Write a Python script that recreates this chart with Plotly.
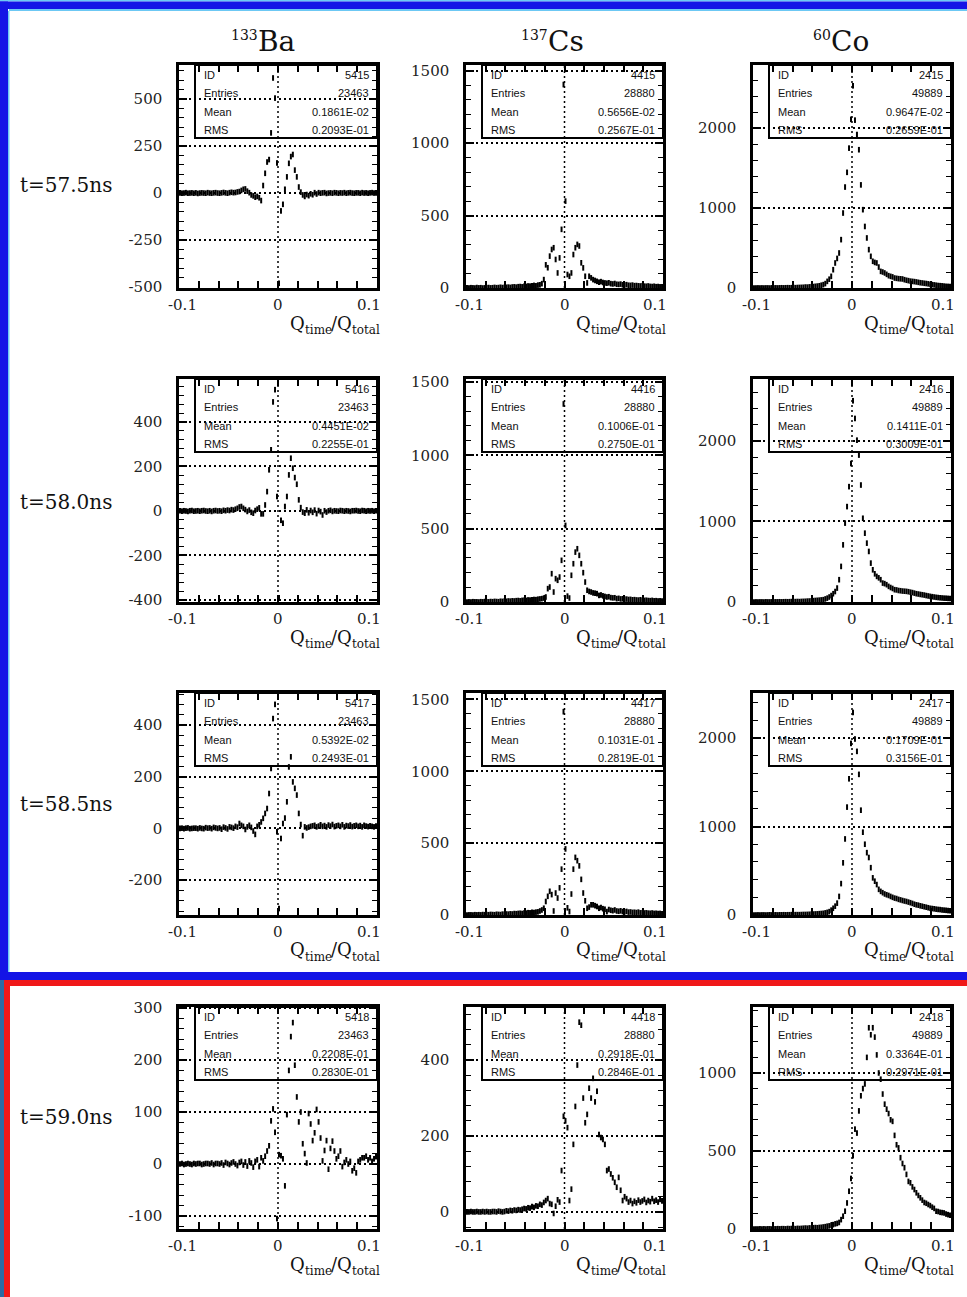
import plotly.graph_objects as go

W, H = 967, 1297

# ---- histogram binning (100 bins on [-0.1, 0.1]) ----
N_BINS = 100
X_MIN, X_MAX = -0.1, 0.1
BIN_W = (X_MAX - X_MIN) / N_BINS
bin_centers = [X_MIN + BIN_W * (k + 0.5) for k in range(N_BINS)]

isotopes = [("133", "Ba"), ("137", "Cs"), ("60", "Co")]
delays = ["t=57.5ns", "t=58.0ns", "t=58.5ns", "t=59.0ns"]

# ---- bin contents, Q_time/Q_total ----
ba_575 = [1, -1, 0, 2, -1, 0, 1, -1, 1, -2,
          0, 1, 0, -1, 2, 0, -1, 1, 2, 0,
          -1, 1, 3, 1, -1, 2, 4, 2, 3, 6,
          8, 14, 20, 22, 10, 2, -10, -15, -22, -18,
          -25, -40, 40, 105, 165, 178, 320, 612, 505, 160,
          -480, -95, -60, 20, 86, 158, 194, 205, 122, 86,
          32, 5, -10, -18, -8, -14, -4, -9, 2, -5,
          2, -1, 1, 2, -2, 0, 1, -1, 2, 1,
          -1, 1, 0, 2, -1, 1, 2, 0, -1, 1,
          1, -1, 2, 0, 1, -1, 1, 2, 0, 1]
ba_580 = [1, -1, 1, 0, -2, 1, 2, -1, 0, 1,
          -1, 1, 2, 0, -1, 1, -2, 1, 2, 0,
          1, -1, 3, 1, 4, 2, 6, 4, 8, 12,
          18, 20, 12, 6, -2, 4, -6, -10, 2, 8,
          14, -13, -13, 27, 87, 185, 275, 490, 545, 65,
          -390, -42, -55, 20, 65, 162, 237, 192, 150, 120,
          50, 15, -5, -10, 5, -8, 2, -6, 4, -12,
          2, -3, -18, 1, -5, 1, 3, -2, 1, 0,
          -1, 2, 1, -1, 1, 0, -2, 1, 1, 2,
          0, -1, 2, 1, -1, 1, 0, 1, -1, 1]
ba_585 = [0, 1, -1, 1, 2, -1, 0, 1, 1, -1,
          2, 0, -1, 3, 1, 2, -1, 4, 2, 0,
          2, -3, 5, 2, -2, 6, 4, 1, 8, 5,
          19, 12, 8, -4, 6, 12, 4, -10, -23, 8,
          14, 25, 39, 58, 77, 135, 232, 425, 480, -13,
          -310, -39, 19, 40, 103, 238, 277, 180, 155, 129,
          58, 15, -28, 6, 2, 5, 8, 10, 12, 6,
          9, 14, 8, 11, 6, 13, 9, 15, 7, 10,
          12, 8, 14, 6, 11, 9, 13, 7, 10, 12,
          8, 11, 6, 12, 9, 7, 10, 8, 6, 9]
ba_590 = [0, 1, -1, 0, 1, 0, -1, 1, 0, 1,
          1, -1, 0, 1, 1, 0, 2, -1, 1, 1,
          0, 2, -2, 3, 1, -1, 2, 4, 0, -3,
          3, 5, -2, 4, -4, 6, 2, -6, 5, 8,
          -5, 12, 6, 15, 25, 35, 83, 106, 61, -105,
          18, 16, 10, -42, 95, 180, 245, 272, 190, 129,
          81, 100, 39, 20, 2, 97, 77, 45, 60, 105,
          81, 50, 6, 26, 45, -10, 30, 44, 25, 10,
          15, 25, -5, 3, 8, 0, 5, -13, -8, -17,
          5, 8, 12, 12, 15, 8, 12, 5, 10, 14]

cs_575 = [1, 0, 2, 1, 0, 3, 1, 2, 0, 1,
          2, 3, 1, 2, 4, 2, 3, 5, 3, 4,
          5, 6, 4, 7, 8, 6, 9, 10, 8, 12,
          11, 14, 13, 16, 18, 15, 20, 22, 30, 58,
          160, 140, 220, 266, 278, 197, 104, 208, 405, 1405,
          600, 93, 81, 104, 231, 278, 301, 290, 174, 139,
          81, 35, 81, 70, 58, 52, 46, 40, 44, 38,
          35, 33, 36, 30, 28, 31, 26, 25, 27, 22,
          21, 23, 19, 18, 20, 16, 17, 15, 14, 16,
          13, 12, 14, 11, 10, 12, 9, 10, 8, 9]
cs_580 = [0, 1, 0, 2, 1, 1, 0, 2, 1, 3,
          2, 1, 3, 2, 4, 3, 2, 5, 4, 6,
          5, 7, 6, 8, 7, 9, 10, 8, 11, 12,
          11, 14, 13, 15, 17, 16, 19, 21, 23, 27,
          34, 91, 102, 193, 68, 159, 148, 170, 284, 1350,
          522, 40, 27, 182, 261, 340, 363, 318, 261, 200,
          136, 80, 72, 68, 62, 60, 57, 45, 48, 42,
          38, 34, 36, 30, 28, 29, 23, 25, 21, 22,
          19, 20, 17, 18, 15, 16, 14, 13, 15, 12,
          11, 12, 10, 9, 11, 8, 9, 7, 8, 6]
cs_585 = [0, 1, 1, 0, 2, 1, 2, 1, 3, 2,
          3, 2, 4, 3, 2, 5, 4, 3, 6, 5,
          7, 6, 8, 7, 10, 9, 11, 12, 10, 14,
          13, 16, 15, 18, 17, 20, 22, 28, 35, 47,
          94, 130, 165, 142, 28, 153, 118, 189, 319, 1415,
          460, 50, 24, 146, 319, 401, 378, 342, 248, 153,
          99, 47, 55, 71, 71, 65, 59, 47, 52, 44,
          40, 24, 38, 33, 30, 35, 28, 26, 29, 24,
          22, 25, 20, 21, 18, 19, 17, 20, 15, 16,
          14, 15, 13, 12, 14, 11, 12, 10, 11, 9]
cs_590 = [0, 0, 1, 0, 0, 1, 0, 0, 1, 0,
          1, 0, 0, 1, 1, 0, 2, 1, 0, 1,
          3, 2, 4, 3, 5, 4, 6, 5, 7, 9,
          8, 11, 10, 14, 12, 16, 15, 20, 18, 25,
          30, 35, 22, 20, -4, 15, 32, 26, 109, 252,
          240, 222, 30, 60, 178, 278, 387, 500, 492, 300,
          235, 257, 326, 300, 352, 290, 318, 204, 196, 191,
          178, 109, 113, 100, 90, 78, 65, 91, 57, 30,
          40, 35, 26, 30, 22, 28, 24, 31, 26, 29,
          33, 25, 30, 27, 35, 28, 31, 26, 33, 29]

co_575 = [0, 0, 1, 0, 1, 0, 1, 1, 0, 2,
          1, 2, 1, 2, 3, 2, 3, 4, 3, 4,
          5, 4, 6, 7, 8, 9, 12, 11, 14, 16,
          18, 21, 24, 28, 35, 42, 55, 83, 110, 146,
          229, 313, 370, 438, 605, 938, 1263, 1447, 1750, 2110,
          2530, 2100, 1920, 1730, 1290, 980, 770, 626, 480, 396,
          334, 320, 313, 262, 208, 200, 188, 171, 154, 146,
          139, 125, 121, 117, 115, 113, 104, 97, 92, 86,
          83, 80, 76, 71, 66, 63, 59, 56, 52, 45,
          42, 39, 35, 31, 29, 27, 24, 21, 20, 18]
co_580 = [0, 1, 0, 1, 1, 0, 2, 1, 1, 2,
          1, 2, 2, 3, 2, 3, 4, 3, 4, 5,
          4, 5, 6, 5, 7, 8, 9, 11, 12, 14,
          17, 19, 21, 23, 26, 29, 38, 48, 62, 80,
          103, 130, 173, 277, 442, 710, 980, 1185, 1433, 1720,
          2500, 2280, 2010, 1825, 1453, 1040, 855, 731, 628, 483,
          400, 350, 318, 300, 277, 235, 228, 215, 194, 180,
          168, 153, 150, 143, 140, 136, 134, 132, 128, 122,
          117, 110, 103, 99, 94, 90, 86, 80, 75, 70,
          66, 62, 58, 55, 52, 50, 48, 47, 45, 43]
co_585 = [0, 0, 1, 0, 1, 1, 0, 1, 2, 1,
          1, 2, 1, 2, 2, 3, 2, 3, 3, 4,
          3, 4, 4, 4, 5, 6, 6, 7, 8, 9,
          11, 12, 13, 15, 17, 19, 24, 30, 38, 55,
          76, 100, 134, 210, 355, 590, 860, 1220, 1540, 1940,
          2290, 1990, 1850, 1590, 1185, 936, 800, 705, 650, 535,
          420, 382, 344, 290, 267, 252, 238, 229, 221, 210,
          200, 191, 186, 177, 171, 164, 158, 153, 146, 139,
          131, 122, 115, 111, 104, 99, 93, 88, 82, 76,
          73, 70, 66, 63, 61, 57, 55, 53, 50, 48]
co_590 = [0, 0, 0, 1, 0, 1, 0, 1, 1, 0,
          1, 1, 2, 1, 2, 2, 1, 3, 2, 3,
          3, 2, 4, 3, 4, 5, 6, 5, 7, 6,
          8, 9, 8, 10, 11, 13, 15, 18, 20, 25,
          28, 33, 36, 42, 60, 82, 114, 167, 242, 324,
          470, 640, 615, 757, 854, 900, 930, 1100, 1290, 1245,
          1290, 1230, 1116, 1000, 960, 865, 800, 768, 740, 700,
          690, 600, 540, 520, 457, 420, 393, 350, 305, 296,
          270, 253, 232, 215, 200, 185, 170, 165, 157, 150,
          140, 132, 114, 112, 107, 105, 103, 96, 92, 88]

counts = [[ba_575, cs_575, co_575],
          [ba_580, cs_580, co_580],
          [ba_585, cs_585, co_585],
          [ba_590, cs_590, co_590]]

# ---- statistics boxes ----
hist_ids = [[5415, 4415, 2415],
            [5416, 4416, 2416],
            [5417, 4417, 2417],
            [5418, 4418, 2418]]
entries = [23463, 28880, 49889]
means = [["0.1861E-02", "0.5656E-02", "0.9647E-02"],
         ["0.4451E-02", "0.1006E-01", "0.1411E-01"],
         ["0.5392E-02", "0.1031E-01", "0.1709E-01"],
         ["0.2208E-01", "0.2918E-01", "0.3364E-01"]]
rmss = [["0.2093E-01", "0.2567E-01", "0.2659E-01"],
        ["0.2255E-01", "0.2750E-01", "0.3009E-01"],
        ["0.2493E-01", "0.2819E-01", "0.3156E-01"],
        ["0.2830E-01", "0.2846E-01", "0.2971E-01"]]

# ---- layout geometry (pixels) ----
col_px = [(179, 377), (466, 663), (753, 951)]
row_px = [(65, 288), (379, 602), (693, 915), (1007, 1229)]
row_label_y = [185, 502, 804, 1117]
title_split_x = [257, 547, 830]

# y-axis (range, labelled step) for each panel
y_axes = [[((-505, 681), 250), ((0, 1540), 500), ((0, 2790), 1000)],
          [((-409, 593), 200), ((0, 1520), 500), ((0, 2770), 1000)],
          [((-335, 524), 200), ((0, 1545), 500), ((0, 2510), 1000)],
          [((-125, 302), 100), ((-45, 540), 200), ((0, 1423), 500)]]

SERIF = "DejaVu Serif"
SANS = "Liberation Sans"
DOT = "2px,3px"

# axis title pieces: (text, font size, vertical offset, advance width in px)
X_TITLE_PARTS = [("Q", 18, 0, 14.2), ("time", 12, 7, 27.1), ("/", 18, 0, 6.1),
                 ("Q", 18, 0, 14.2), ("total", 12, 7, 27.9)]


def px_x(px):
    return px / W


def px_y(py):
    return 1 - py / H


fig = go.Figure()
layout = dict(width=W, height=H,
              margin=dict(l=0, r=0, t=0, b=0, pad=0, autoexpand=False),
              paper_bgcolor="white", plot_bgcolor="white", showlegend=False,
              font=dict(family=SERIF, size=15, color="#111"))
shapes, annotations = [], []


def text(x, y, s, size, family=SERIF, xanchor="center", yanchor="middle", color="#111"):
    annotations.append(dict(x=px_x(x), y=px_y(y), xref="paper", yref="paper", text=s,
                            showarrow=False, xanchor=xanchor, yanchor=yanchor,
                            borderpad=0, borderwidth=0,
                            font=dict(family=family, size=size, color=color)))


for r in range(4):
    top, bot = row_px[r]
    for c in range(3):
        left, right = col_px[c]
        idx = r * 3 + c + 1
        xn = "x" if idx == 1 else f"x{idx}"
        yn = "y" if idx == 1 else f"y{idx}"
        (ylo, yhi), step = y_axes[r][c]

        fig.add_trace(go.Scatter(
            x=bin_centers, y=counts[r][c], xaxis=xn, yaxis=yn, mode="markers",
            marker=dict(symbol="line-ns", size=4, color="black",
                        line=dict(width=2, color="black")),
            hoverinfo="x+y"))

        layout[f"xaxis{idx}"] = dict(
            domain=[px_x(left), px_x(right)], range=[X_MIN, X_MAX], anchor=yn,
            automargin=False,
            showline=True, linewidth=2.5, linecolor="black", mirror="ticks",
            ticks="inside", tickmode="linear", tick0=0, dtick=0.02, ticklen=7,
            tickwidth=1.5, tickcolor="black", showticklabels=False,
            showgrid=False, zeroline=False, fixedrange=True)

        first = -(-ylo // step) * step
        tickvals = list(range(int(first), int(yhi) + 1, step))
        layout[f"yaxis{idx}"] = dict(
            domain=[px_y(bot), px_y(top)], range=[ylo, yhi], anchor=xn,
            automargin=False,
            showline=True, linewidth=2.5, linecolor="black", mirror="ticks",
            ticks="inside", ticklen=8, tickwidth=1.5, tickcolor="black",
            tickmode="array", tickvals=tickvals, ticktext=[str(v) for v in tickvals],
            tickfont=dict(family=SERIF, size=15, color="#222"), ticklabelstandoff=11,
            showgrid=True, gridcolor="black", gridwidth=1.5, griddash=DOT,
            zeroline=False, fixedrange=True,
            minor=dict(ticks="inside", tickmode="linear", tick0=0, dtick=step / 5,
                       ticklen=5, tickwidth=1.2, tickcolor="black", showgrid=False))

        # vertical dotted line at zero
        shapes.append(dict(type="line", xref=xn, yref=f"{yn} domain", x0=0, x1=0,
                           y0=0, y1=1, line=dict(color="black", width=1.5, dash=DOT)))

        # statistics box
        shapes.append(dict(type="rect", xref="paper", yref="paper",
                           x0=px_x(left + 16), x1=px_x(right), y0=px_y(top + 73), y1=px_y(top),
                           line=dict(color="black", width=2), fillcolor="rgba(0,0,0,0)"))
        rows = [("ID", str(hist_ids[r][c])), ("Entries", str(entries[c])),
                ("Mean", means[r][c]), ("RMS", rmss[r][c])]
        for k, (lab, val) in enumerate(rows):
            yy = top + 10 + k * 18.3
            text(left + 25, yy, lab, 11, SANS, xanchor="left")
            text(right - 8, yy, val, 11, SANS, xanchor="right")

        # x tick labels
        text(left + 3, bot + 17, "-0.1", 15, color="#222")
        text((left + right) / 2, bot + 17, "0", 15, color="#222")
        text(right + 4, bot + 17, "0.1", 15, xanchor="right", color="#222")

        # x axis title Q_time/Q_total, laid out right to left
        xr = right + 3
        for part, size, dy, adv in reversed(X_TITLE_PARTS):
            text(xr, bot + 35 + dy, part, size, xanchor="right")
            xr -= adv

    text(20, row_label_y[r], delays[r], 20, xanchor="left")

# column headings
for c, (mass, elem) in enumerate(isotopes):
    text(title_split_x[c] + 1, 35, mass, 14, xanchor="right")
    text(title_split_x[c] + 1, 42, elem, 28, xanchor="left")


# slide frames
def band(x0, y0, x1, y1, color):
    shapes.append(dict(type="rect", xref="paper", yref="paper", x0=px_x(x0), x1=px_x(x1),
                       y0=px_y(y1), y1=px_y(y0), fillcolor=color, line=dict(width=0),
                       layer="above"))


band(0, 0, W, 1.5, "#6cc8f4")
band(0, 1.5, W, 9, "#1414e6")
band(9, 9, W, 11, "#6cc8f4")
band(0, 1.5, 8, 980, "#1414e6")
band(8, 11, 9.5, 972, "#6cc8f4")
band(0, 972, W, 980, "#1414e6")
band(0, 980, 4, H, "#2b6ca3")
band(4, 980, W, 986, "#f01818")
band(4, 980, 10, H, "#f01818")

layout["shapes"] = shapes
layout["annotations"] = annotations
fig.update_layout(**layout)
fig.write_html("out.html")
